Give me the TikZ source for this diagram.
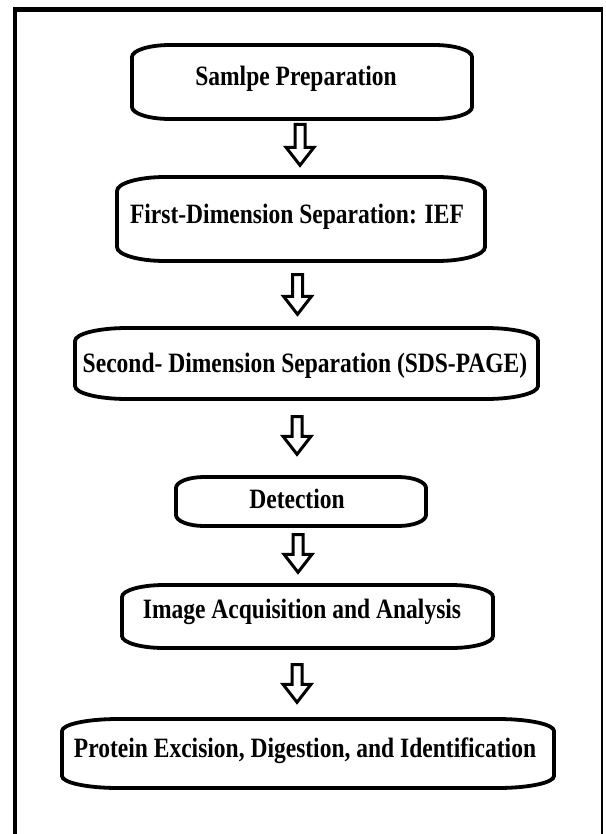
\documentclass[tikz,border=0pt]{standalone}
\usepackage{fontspec}
\setmainfont{Liberation Serif}[FakeStretch=0.84]
\usetikzlibrary{calc}
\tikzset{
  stage/.style={inner sep=0pt, outer sep=0pt},
  boxline/.style={line width=3.8pt, draw=black},
  blockarrow/.style={line width=3pt, draw=black, line join=miter},
  lbl/.style={anchor=base, inner sep=0pt, font=\fontsize{28}{32}\selectfont\bfseries},
  frameline/.style={draw=black, line join=miter}
}
\newcommand\stageoutline[3]{%
  \draw[boxline] ($(#1.north west)+(#2,0)$) -- ($(#1.north east)+(-#2,0)$)
    arc[start angle=90,end angle=0,x radius=#2pt,y radius=#3pt]
    -- ($(#1.south east)+(0,#3)$)
    arc[start angle=0,end angle=-90,x radius=#2pt,y radius=#3pt]
    -- ($(#1.south west)+(#2,0)$)
    arc[start angle=270,end angle=180,x radius=#2pt,y radius=#3pt]
    -- ($(#1.north west)+(0,-#3)$)
    arc[start angle=180,end angle=90,x radius=#2pt,y radius=#3pt] -- cycle;}
\newcommand\blkarrow[2]{%
  \draw[blockarrow] ($(#1)+(-5,0)$) -- ($(#2)+(-5,18)$) -- ($(#2)+(-14,18)$)
    -- (#2) -- ($(#2)+(14,18)$) -- ($(#2)+(5,18)$) -- ($(#1)+(5,0)$) -- cycle;}
\begin{document}
\begin{tikzpicture}[x=1pt,y=1pt]
\useasboundingbox[fill=white] (0,0) rectangle (605,-834);
% frame
\draw[frameline, line width=4.5pt] (15,-840) -- (15,-9.5) -- (603,-9.5);
\draw[frameline, line width=2.5pt] (602,-9.5) -- (602,-840);
% stage boxes
\node[stage, minimum width=340pt, minimum height=74pt] (b1) at (302,-82) {};
\node[stage, minimum width=368pt, minimum height=84pt] (b2) at (301,-219) {};
\node[stage, minimum width=463pt, minimum height=71pt] (b3) at (306.5,-363.5) {};
\node[stage, minimum width=250pt, minimum height=49pt] (b4) at (301,-501.5) {};
\node[stage, minimum width=371pt, minimum height=63pt] (b5) at (307.5,-616.5) {};
\node[stage, minimum width=492pt, minimum height=69pt] (b6) at (308,-753.5) {};
\stageoutline{b1}{38}{12}
\stageoutline{b2}{48}{14}
\stageoutline{b3}{52}{13}
\stageoutline{b4}{28}{11}
\stageoutline{b5}{42}{12}
\stageoutline{b6}{56}{12}
% labels
\node[lbl] (l1) at (296,-86) {Samlpe Preparation};
\node[lbl] (l2) at (297,-224) {First-Dimension Separation: IEF};
\node[lbl] (l3) at (305,-372) {Second- Dimension Separation (SDS-PAGE)};
\node[lbl] (l4) at (297,-508) {Detection};
\node[lbl] (l5) at (302,-618) {Image Acquisition and Analysis};
\node[lbl] (l6) at (305,-757) {Protein Excision, Digestion, and Identification};
% block arrows
\coordinate (a1t) at (300,-124.5);   \coordinate (a1h) at (300,-165.3);
\coordinate (a2t) at (297.5,-274.5); \coordinate (a2h) at (297.5,-314.3);
\coordinate (a3t) at (297,-416.5);   \coordinate (a3h) at (297,-454.3);
\coordinate (a4t) at (298,-534.5);   \coordinate (a4h) at (298,-572.3);
\coordinate (a5t) at (297,-664.5);   \coordinate (a5h) at (297,-702.3);
\blkarrow{a1t}{a1h}
\blkarrow{a2t}{a2h}
\blkarrow{a3t}{a3h}
\blkarrow{a4t}{a4h}
\blkarrow{a5t}{a5h}
\end{tikzpicture}
\end{document}
